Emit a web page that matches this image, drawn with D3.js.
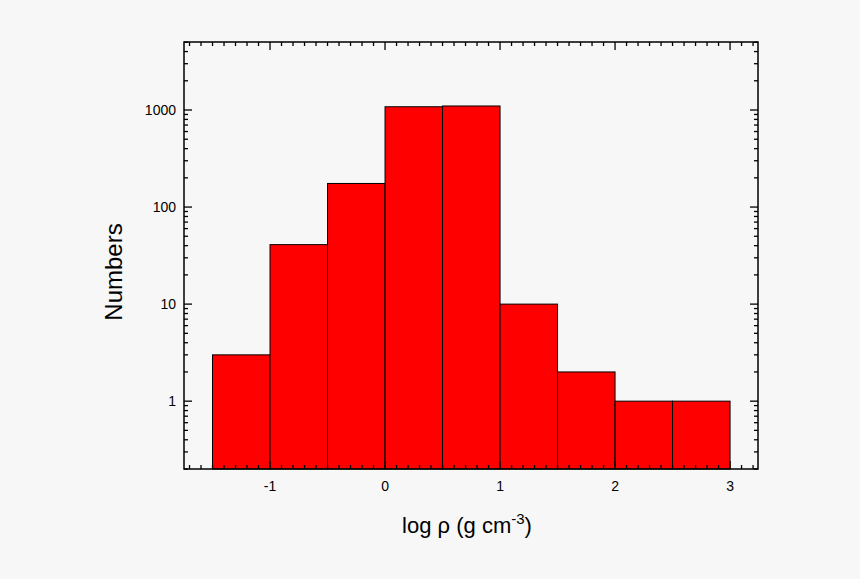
<!DOCTYPE html><html><head><meta charset="utf-8"><script src="https://cdn.jsdelivr.net/npm/d3@7"></script>
<style>body{margin:0;background:#f7f7f7}</style></head><body><svg id="c" width="860" height="579"></svg>
<script>
const binStarts=[-1.5,-1,-0.5,0,0.5,1,1.5,2,2.5];
const binWidth=0.5;
const counts=[3,41,175,1080,1100,10,2,1,1];
const xTicks=[-1,0,1,2,3];
const yTicks=[1,10,100,1000];
const svg=d3.select("#c");
const L=184,R=758,T=42,B=469;
const x=d3.scaleLinear().domain([-1.748,3.243]).range([L,R]);
const y=d3.scaleLog().domain([0.2,5020]).range([B,T]);
svg.append("rect").attr("x",0).attr("y",0).attr("width",860).attr("height",579).attr("fill","#f7f7f7");
svg.selectAll(".bar").data(counts).enter().append("rect")
 .attr("x",(d,i)=>x(binStarts[i])).attr("width",(d,i)=>x(binStarts[i]+binWidth)-x(binStarts[i]))
 .attr("y",d=>y(d)).attr("height",d=>B-y(d)).attr("fill","#ff0000").attr("stroke","#000").attr("stroke-width",1);
const g=svg.append("g").attr("stroke","#000").attr("stroke-width",1.3);
const xmin=d3.range(-17,33).map(v=>v/10);
xmin.forEach(v=>{const major=Math.abs(v-Math.round(v))<1e-9;const len=major?8:4;const px=x(v);
 g.append("line").attr("x1",px).attr("x2",px).attr("y1",B).attr("y2",B-len);
 g.append("line").attr("x1",px).attr("x2",px).attr("y1",T).attr("y2",T+len);});
const ymin=[];[0.1,1,10,100,1000].forEach(d=>{for(let k=1;k<10;k++){const v=d*k;if(v>=0.2&&v<=5020)ymin.push({v,major:k===1});}});
ymin.forEach(o=>{const py=y(o.v);const len=o.major?8:4;
 g.append("line").attr("x1",L).attr("x2",L+len).attr("y1",py).attr("y2",py);
 g.append("line").attr("x1",R).attr("x2",R-len).attr("y1",py).attr("y2",py);});
svg.append("rect").attr("x",L).attr("y",T).attr("width",R-L).attr("height",B-T).attr("fill","none").attr("stroke","#000").attr("stroke-width",1.5);
svg.selectAll(".xl").data(xTicks).enter().append("text").attr("x",d=>x(d)).attr("y",491).attr("text-anchor","middle")
 .attr("font-family","Liberation Sans, Arial").attr("font-size",14).text(d=>d);
svg.selectAll(".yl").data(yTicks).enter().append("text").attr("x",176).attr("y",d=>y(d)+5).attr("text-anchor","end")
 .attr("font-family","Liberation Sans, Arial").attr("font-size",14).text(d=>d);
const xt=svg.append("text").attr("x",467).attr("y",533).attr("text-anchor","middle").attr("font-family","Liberation Sans, Arial").attr("font-size",22);
xt.append("tspan").text("log ρ  (g cm");
xt.append("tspan").attr("font-size",15).attr("dy",-9).text("-3");
xt.append("tspan").attr("dy",9).text(")");
svg.append("text").attr("transform","translate(122,272) rotate(-90)").attr("text-anchor","middle")
 .attr("font-family","Liberation Sans, Arial").attr("font-size",24).text("Numbers");
</script></body></html>
